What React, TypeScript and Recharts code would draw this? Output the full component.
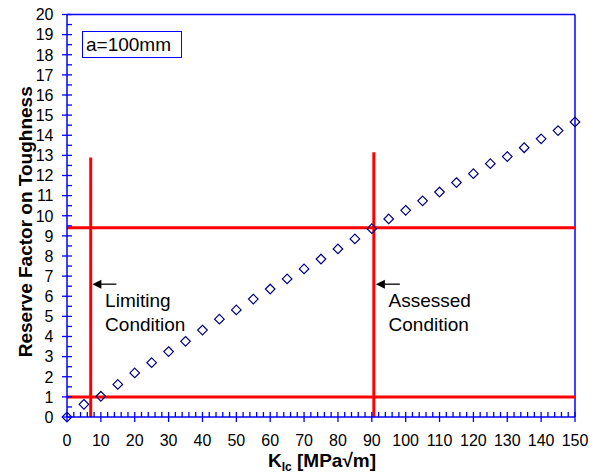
import React from 'react';
import {
  ScatterChart,
  Scatter,
  XAxis,
  YAxis,
  ReferenceLine,
  ReferenceDot,
} from 'recharts';

// --- Data ---
const kIc = [0, 5, 10, 15, 20, 25, 30, 35, 40, 45, 50, 55, 60, 65, 70, 75, 80, 85, 90, 95, 100, 105, 110, 115, 120, 125, 130, 135, 140, 145, 150];
const reserveFactor = [0, 0.63, 1.03, 1.62, 2.19, 2.7, 3.25, 3.76, 4.32, 4.86, 5.32, 5.86, 6.36, 6.86, 7.36, 7.85, 8.35, 8.85, 9.36, 9.84, 10.27, 10.74, 11.18, 11.65, 12.09, 12.59, 12.94, 13.38, 13.82, 14.23, 14.66];

const xMajorTicks = [0, 10, 20, 30, 40, 50, 60, 70, 80, 90, 100, 110, 120, 130, 140, 150];
const yMajorTicks = [0, 1, 2, 3, 4, 5, 6, 7, 8, 9, 10, 11, 12, 13, 14, 15, 16, 17, 18, 19, 20];

// red condition lines: [x1, y1, x2, y2]
const conditionLines = [
  [0, 9.4, 150, 9.4],
  [0, 1.0, 150, 1.0],
  [7, 0, 7, 12.9],
  [90.6, 0, 90.6, 13.15],
];

const annotations = [
  { x: 7.5, y: 6.6, lines: ['Limiting', 'Condition'] },
  { x: 91.2, y: 6.6, lines: ['Assessed', 'Condition'] },
];

const caseLabel = 'a=100mm';

const AXIS_BLUE = '#0000ff';
const FONT = 'Arial, "Liberation Sans", sans-serif';

// minor ticks: x every 2, y every 0.5
const xTicks: number[] = [];
xMajorTicks.slice(0, -1).forEach(t => { for (let i = 0; i < 5; i++) xTicks.push(t + i * 2); });
xTicks.push(150);
const yTicks: number[] = [];
yMajorTicks.slice(0, -1).forEach(t => { yTicks.push(t, t + 0.5); });
yTicks.push(20);

const data = kIc.map((k, i) => ({ k, rf: reserveFactor[i] }));

const YTick = (props: any) => {
  const { x, y, payload } = props;
  const v = payload.value;
  const major = yMajorTicks.includes(v);
  return (
    <g>
      <line x1={major ? x - 5 : x} x2={x + 5} y1={y} y2={y} stroke={AXIS_BLUE} strokeWidth={1.3} />
      {major && (
        <text x={x - 13.5} y={y} dy="0.36em" textAnchor="end" fontSize={16} fontFamily={FONT} fill="#000">{v}</text>
      )}
    </g>
  );
};

const XTick = (props: any) => {
  const { x, y, payload } = props;
  const v = payload.value;
  const major = xMajorTicks.includes(v);
  return (
    <g>
      <line x1={x} x2={x} y1={y - 5} y2={major ? y + 5 : y} stroke={AXIS_BLUE} strokeWidth={1.3} />
      {major && (
        <text x={x} y={y + 29} textAnchor="middle" fontSize={16} fontFamily={FONT} fill="#000">{v}</text>
      )}
    </g>
  );
};

const Diamond = (props: any) => {
  const { cx, cy } = props;
  const s = 4.8;
  return (
    <path d={`M${cx},${cy - s} L${cx + s},${cy} L${cx},${cy + s} L${cx - s},${cy} Z`} fill="none" stroke="#000080" strokeWidth={1.2} />
  );
};

const ArrowLabel = (lines: string[]) => (props: any) => {
  const { cx, cy } = props;
  return (
    <g>
      <line x1={cx + 7} x2={cx + 24} y1={cy} y2={cy} stroke="#000" strokeWidth={1.3} />
      <path d={`M${cx},${cy} L${cx + 9},${cy - 4.5} L${cx + 9},${cy + 4.5} Z`} fill="#000" />
      {lines.map((t, i) => (
        <text key={i} x={cx + 12.7} y={cy + 22.5 + i * 24.5} fontSize={19} fontFamily={FONT} fill="#000">{t}</text>
      ))}
    </g>
  );
};

const YTitle = (props: any) => {
  const { viewBox } = props;
  const cx = viewBox.x + 32;
  const cy = viewBox.y + viewBox.height / 2 + 6;
  return (
    <text x={cx} y={cy} transform={`rotate(-90, ${cx}, ${cy})`} textAnchor="middle" fontSize={19} fontWeight="bold" fontFamily={FONT} fill="#000">
      Reserve Factor on Toughness
    </text>
  );
};

const XTitle = (props: any) => {
  const { viewBox } = props;
  const cx = viewBox.x + viewBox.width / 2 + 1;
  const cy = viewBox.y + 50;
  return (
    <text x={cx} y={cy} textAnchor="middle" fontSize={19} fontWeight="bold" fontFamily={FONT} fill="#000">
      K<tspan fontSize={12} dy={4}>Ic</tspan><tspan dy={-4}> [MPa√m]</tspan>
    </text>
  );
};

const App: React.FC = () => {
  return (
    <div style={{ position: 'absolute', left: 0, top: 0, width: 600, height: 474, background: '#fff' }}>
      <ScatterChart width={600} height={474} margin={{ top: 14.5, right: 25, bottom: 0, left: 0 }}>
        <XAxis
          type="number"
          dataKey="k"
          domain={[0, 150]}
          ticks={xTicks}
          interval={0}
          tickSize={0}
          tickMargin={0}
          tickLine={false}
          tick={<XTick />}
          axisLine={{ stroke: AXIS_BLUE, strokeWidth: 1.5 }}
          height={57}
          label={<XTitle />}
        />
        <YAxis
          type="number"
          dataKey="rf"
          domain={[0, 20]}
          ticks={yTicks}
          interval={0}
          tickSize={0}
          tickMargin={0}
          tickLine={false}
          tick={<YTick />}
          axisLine={{ stroke: AXIS_BLUE, strokeWidth: 1.5 }}
          width={67}
          label={<YTitle />}
        />
        <ReferenceLine y={20} stroke={AXIS_BLUE} strokeWidth={1.5} />
        <ReferenceLine x={150} stroke={AXIS_BLUE} strokeWidth={1.5} />
        <Scatter data={data} shape={<Diamond />} isAnimationActive={false} />
        {conditionLines.map((l, i) => (
          <ReferenceLine
            key={i}
            segment={[{ x: l[0], y: l[1] }, { x: l[2], y: l[3] }]}
            stroke="#ff0000"
            strokeWidth={3}
          />
        ))}
        {annotations.map((a, i) => (
          <ReferenceDot key={i} x={a.x} y={a.y} r={0} shape={ArrowLabel(a.lines)} />
        ))}
      </ScatterChart>
      <div
        style={{
          position: 'absolute',
          left: 82,
          top: 31,
          width: 95,
          height: 25,
          border: `1px solid ${AXIS_BLUE}`,
          fontFamily: FONT,
          fontSize: 19,
          lineHeight: '25px',
          paddingLeft: 3,
          boxSizing: 'content-box',
        }}
      >
        {caseLabel}
      </div>
    </div>
  );
};

export default App;
